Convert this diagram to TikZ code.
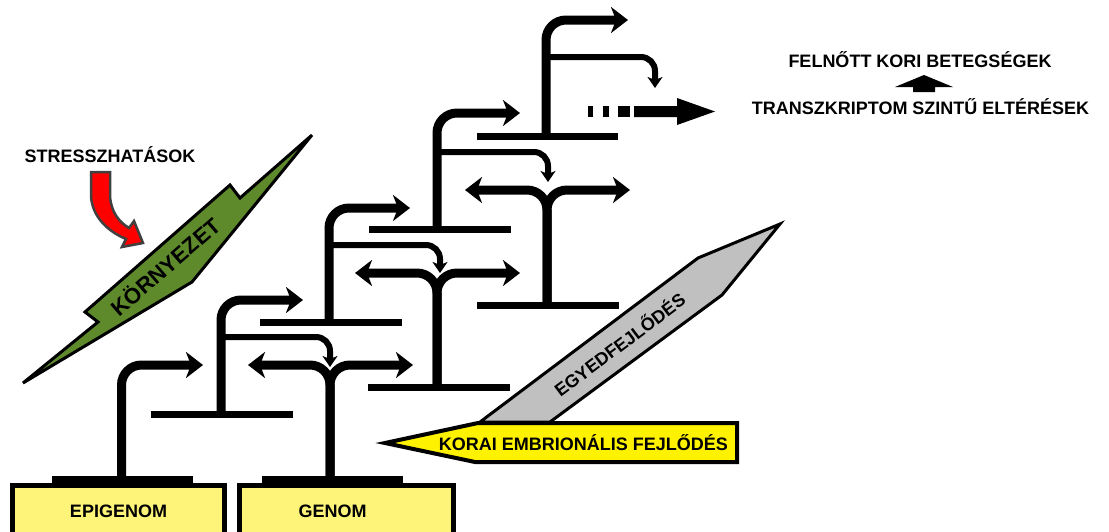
\documentclass[tikz,border=0pt]{standalone}
\usepackage{fontspec}
\setmainfont{Liberation Sans}
\usetikzlibrary{arrows.meta}
\definecolor{boxyellow}{HTML}{FFF47A}
\definecolor{arrowyellow}{HTML}{FFF200}
\definecolor{envgreen}{HTML}{5E8A2C}
\definecolor{devgray}{HTML}{C0C0C0}
\definecolor{outlinegray}{HTML}{404040}
\tikzset{
  bigtip/.tip={Stealth[length=17pt,width=26pt,inset=5pt]},
  smalltip/.tip={Stealth[length=11pt,width=15pt,inset=3pt]},
  prom/.style={line width=9pt, rounded corners=20pt, -bigtip},
  yarm/.style={line width=9pt, rounded corners=20pt, -bigtip},
  branch/.style={line width=6pt, rounded corners=14pt, -smalltip},
  teebar/.style={line width=7pt},
  lbl/.style={font=\fontsize{18pt}{20pt}\selectfont\bfseries, inner sep=0pt},
  genebox/.style={draw=black, line width=5pt, fill=boxyellow},
}
\begin{document}
\begin{tikzpicture}[x=1pt,y=-1pt]
\useasboundingbox (0,0) rectangle (1109,531);
\clip (0,0) rectangle (1109,531);

% ---- base boxes ----
\draw[genebox] (12.5,485.5) rectangle (224.5,545);
\draw[genebox] (239.5,485.5) rectangle (453.5,545);
\fill (52,476) rectangle (193,483);
\fill (262,476) rectangle (403,483);
\node[lbl, anchor=base] (epi) at (118.5,517) {EPIGENOM};
\node[lbl, anchor=base] (gen) at (332.5,517) {GENOM};

% ---- epigenome promoter ----
\draw[prom] (121.5,479) |- (203,365);

% ---- tee units ----
\foreach \vx/\bl/\br/\by/\ty/\tx/\bry/\btx/\bty in {
  221/151/293/414.5/300/303/337/330/367,
  329/260/402/322/208/410/245/440/273,
  437/369/511/229/113/520/152/548/182,
  546/477/618/136/20/628/57/655/88}
{
  \draw[teebar] (\bl,\by) -- (\br,\by);
  \draw[prom] (\vx,\by) |- (\tx,\ty);
  \draw[branch] (\vx,\bry) -| (\btx,\bty);
}

% ---- genome-side bars ----
\draw[teebar] (368,387) -- (510,387);
\draw[teebar] (477,305) -- (619,305);

% ---- bidirectional Y arrows ----
\foreach \sx/\sb/\ay/\lt/\rt in {
  330/479/365/248/413,
  437/387/273/355/520,
  547/305/190/465/630}
{
  \draw[yarm] (\sx,\sb) |- (\lt,\ay);
  \draw[yarm] (\sx,\sb) |- (\rt,\ay);
}

% ---- dashed thick arrow ----
\fill (588,106) rectangle (593,117);
\fill (603,106) rectangle (609,117);
\fill (618,106) rectangle (630,117);
\fill (634,106) -- (677,106) -- (677,98) -- (715,111.5) -- (677,125) -- (677,117) -- (634,117) -- cycle;

% ---- legend ----
\node[lbl, anchor=base] (adult) at (920,67) {FELNŐTT KORI BETEGSÉGEK};
\node[lbl, anchor=base] (trans) at (920.5,114) {TRANSZKRIPTOM SZINTŰ ELTÉRÉSEK};
\fill (895,87) -- (924,75) -- (953,87) -- (935,87) -- (935,92) -- (913,92) -- (913,87) -- cycle;

% ---- environment ----
\filldraw[fill=envgreen, draw=black, line width=3pt]
  (23,383) -- (98,322) -- (85,312) -- (230,185) -- (240,198) -- (312,135) -- (192,282) -- cycle;
\node[lbl, font=\fontsize{22pt}{24pt}\selectfont\bfseries, rotate=41] (env) at (165,266) {KÖRNYEZET};
\node[lbl, anchor=base] (stress) at (110,162) {STRESSZHATÁSOK};
\filldraw[fill=red, draw=outlinegray, line width=2.5pt]
  (91,172) -- (110,172) -- (110,196) .. controls (111,212) and (119,222) .. (129,228)
  -- (134,221) -- (143,243) -- (122,247) -- (126,239)
  .. controls (107,231) and (92,216) .. (91,196) -- cycle;

% ---- development ----
\filldraw[fill=devgray, draw=black, line width=3pt]
  (480,422) -- (698,258) -- (780,224) -- (722,295) -- (550,422) -- cycle;
\node[lbl, rotate=37] (dev) at (619,344) {EGYEDFEJLŐDÉS};
\filldraw[fill=arrowyellow, draw=black, line width=4pt]
  (385,443) -- (478,423) -- (737,423) -- (737,462) -- (475,462) -- cycle;
\node[lbl, anchor=base] (embryo) at (583.5,450) {KORAI EMBRIONÁLIS FEJLŐDÉS};
\end{tikzpicture}
\end{document}
